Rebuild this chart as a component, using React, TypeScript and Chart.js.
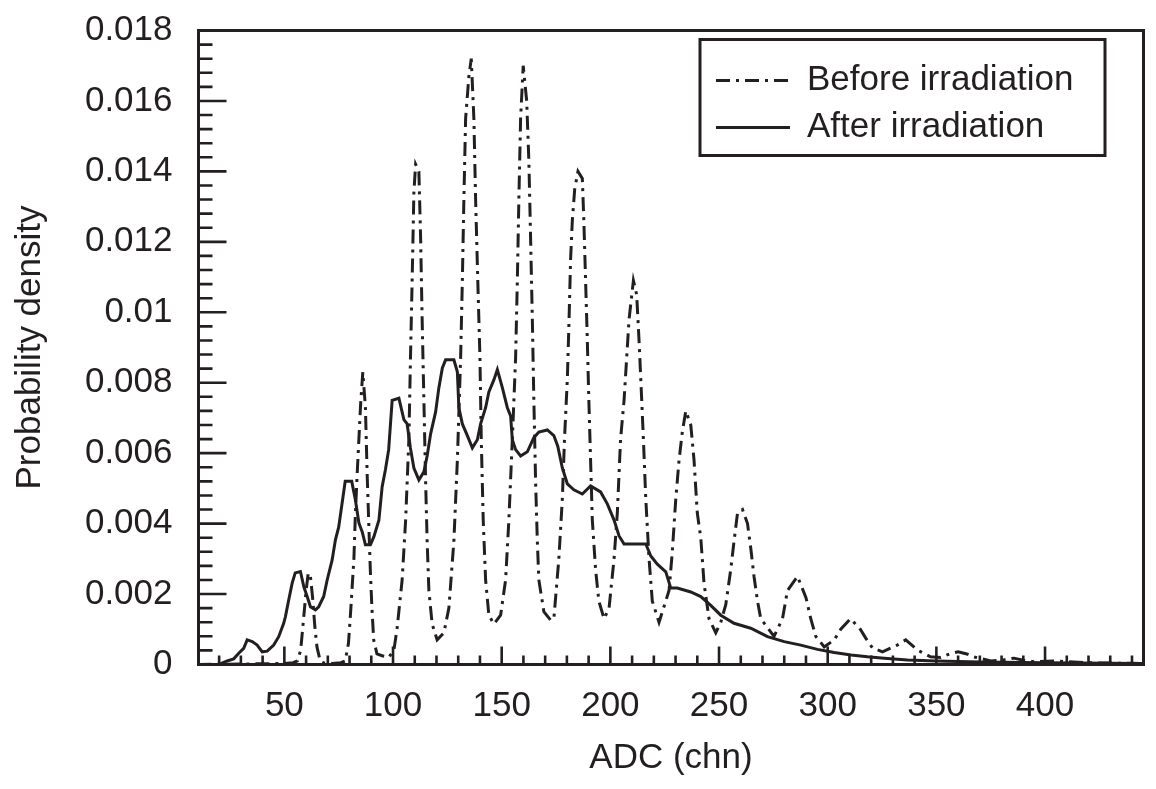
import { useEffect, useRef } from 'react';
import { Chart, registerables } from 'chart.js';

Chart.register(...registerables);

// ADC channel / probability density
const beforeAdc = [
  10, 40, 50, 54, 56, 57.5, 59, 60, 61, 62, 63, 64, 65, 66.5, 68, 72, 76,
  78, 79.5, 80.5, 82, 82.7, 83.5, 84.3, 85.1, 86.1, 87.3, 88.1, 88.9, 89.6, 90.3, 91.1, 92.6, 95, 98,
  100.4, 101.9, 104.2, 105.8, 107.3, 108, 108.8, 109.6, 110.4, 111.9, 112.7, 113.4, 114.2, 115, 115.7, 116.5, 118, 120.3, 123.4,
  125.7, 128, 129.6, 131.1, 131.9, 132.6, 133.4, 134.9, 136, 137.2, 138, 139, 140, 140.6, 141.5, 142.6, 144.1, 146.4, 149.5,
  151.8, 153.3, 154.9, 156.4, 157.2, 157.9, 158.7, 159.9, 161.5, 162.5, 163.3, 164.1, 164.8, 165.6, 166.4, 167.1, 169.4, 172.5, 174,
  176.3, 177.9, 178.9, 180.2, 181, 181.7, 182.5, 183.6, 185.1, 187.1, 187.8, 188.6, 189.4, 190.1, 190.9, 191.7, 193.2, 194.7, 197.1,
  199.4, 201.7, 203.2, 204.7, 206.3, 207.5, 208.6, 210.6, 212.1, 213.2, 214, 215.2, 216.3, 217.8, 219.3, 222.4,
  227, 228.5, 230.1, 231.6, 233.1, 234.7, 237, 238.5, 240, 241.6, 243.1, 245.4, 248.5,
  250.8, 253.1, 255.4, 256.9, 258.5, 260.8, 263.1, 264.6, 266.1, 267.7, 269.2, 275.3,
  279.2, 281.5, 286.1, 290, 292.2, 294.5, 298.4, 303, 306, 310.5, 315, 317.5, 320.6, 325.2,
  332, 335.9, 341.3, 347.3, 352, 356, 360, 364, 367, 375, 380, 385.7, 390, 395, 405, 410, 420, 430, 445,
];
const beforeDensity = [
  0, 0.00002, 0.00003, 0.00005, 0.0001, 0.0004, 0.0014, 0.0021, 0.0026, 0.0025, 0.0019, 0.0011, 0.0005, 0.0001, 0.00005, 0.00003, 0.00005,
  0.0001, 0.0006, 0.0015, 0.003, 0.0043, 0.0054, 0.0064, 0.0074, 0.0083, 0.0073, 0.0054, 0.0039, 0.0026, 0.0016, 0.0007, 0.0003, 0.00025, 0.0002,
  0.0004, 0.00104, 0.0024, 0.0041, 0.0064, 0.0086, 0.0109, 0.0134, 0.0142, 0.014, 0.0121, 0.0098, 0.0075, 0.0052, 0.0035, 0.0021, 0.00115, 0.0007, 0.0009,
  0.0016, 0.0035, 0.0058, 0.0087, 0.0109, 0.0132, 0.0155, 0.0167, 0.0172, 0.0155, 0.0132, 0.0109, 0.0087, 0.0064, 0.0041, 0.0024, 0.0014, 0.00115, 0.0014,
  0.0024, 0.0041, 0.0064, 0.0087, 0.0109, 0.0132, 0.0155, 0.017, 0.016, 0.0143, 0.0121, 0.0098, 0.0075, 0.0052, 0.0035, 0.0024, 0.0015, 0.00126, 0.0013,
  0.003, 0.0047, 0.0064, 0.0081, 0.0098, 0.0115, 0.0126, 0.0135, 0.014, 0.0138, 0.0126, 0.0109, 0.0092, 0.0075, 0.0058, 0.0041, 0.0027, 0.0018, 0.0013,
  0.0016, 0.003, 0.0043, 0.0064, 0.0075, 0.0087, 0.0098, 0.0109, 0.0105, 0.0092, 0.0081, 0.0064, 0.0047, 0.003, 0.0018, 0.0012,
  0.0021, 0.0032, 0.0047, 0.0058, 0.0066, 0.0072, 0.0068, 0.0058, 0.0043, 0.0036, 0.0023, 0.0013, 0.0009,
  0.0012, 0.0017, 0.0027, 0.0035, 0.0043, 0.0044, 0.004, 0.0033, 0.0025, 0.0018, 0.0013, 0.0008,
  0.0013, 0.0021, 0.0025, 0.0019, 0.0013, 0.0008, 0.0005, 0.0007, 0.001, 0.0013, 0.001, 0.00075, 0.00047, 0.00036,
  0.00055, 0.0007, 0.00041, 0.00022, 0.0002, 0.0003, 0.00036, 0.0003, 0.00022, 0.0001, 0.00012, 0.00018, 0.00012, 0.00008, 0.0001, 0.00008, 0.00005, 0.00004, 0.00003,
];

const afterAdc = [
  10, 20, 21, 23.7, 26.7, 29, 31.3, 32.9, 35.2, 37.5, 39.8, 42.1, 45.1, 47.4, 49.7, 50.5, 52, 53.6, 55, 57.4,
  59, 60.5, 62, 64.3, 65.8, 68.1, 69.7, 72, 73.5, 75, 76.6, 78, 81, 82.7, 84.3, 85.8, 87.3, 89.6, 91.2, 93.5,
  95, 96.5, 98, 99.6, 102.7, 105, 106.5, 108, 109.6, 111.9, 114.2, 115.7, 117.3, 119.6, 121.1, 122.7, 124.2, 128,
  129.6, 130.3, 131.9, 134.2, 136.5, 138.8, 140.3, 142.6, 144.1, 146.4, 148, 150.3, 152.6, 154.1, 154.9, 156.4,
  158.7, 161.8, 164.8, 167.1, 171, 174, 175.8, 177.9, 180.2, 183.2, 187.1, 190.9, 195.5, 198.6, 201.7, 204, 206.3,
  216.3, 218.6, 221.6, 225.5, 227.8, 230.8, 237, 241.6, 246.2, 250.8, 256.9, 264.6, 272.3, 280, 287.6, 295.3,
  303, 310.7, 318.3, 326, 336.7, 350, 370, 400, 445,
];
const afterDensity = [
  0, 0, 0.00003, 0.0001, 0.00016, 0.00032, 0.00046, 0.0007, 0.00065, 0.00055, 0.00036, 0.00038, 0.00055, 0.00079, 0.00117, 0.00136, 0.00183, 0.00231, 0.0026, 0.00264,
  0.0022, 0.00193, 0.00164, 0.00155, 0.00164, 0.00193, 0.0024, 0.00297, 0.00354, 0.0039, 0.00459, 0.0052, 0.0052, 0.00467, 0.00402, 0.00377, 0.0034, 0.0034, 0.00363, 0.0041,
  0.00505, 0.00553, 0.0061, 0.0075, 0.00756, 0.00695, 0.00683, 0.00615, 0.00558, 0.00524, 0.00547, 0.00592, 0.00655, 0.00717, 0.00786, 0.00842, 0.00865, 0.00865,
  0.00831, 0.00729, 0.00683, 0.0065, 0.00615, 0.00638, 0.00683, 0.00729, 0.00774, 0.00808, 0.00837, 0.00786, 0.00729, 0.00706, 0.00638, 0.0061,
  0.00592, 0.00604, 0.00644, 0.0066, 0.00666, 0.0065, 0.0062, 0.00558, 0.00513, 0.00496, 0.00484, 0.00507, 0.0049, 0.00456, 0.0041, 0.00365, 0.00342,
  0.00342, 0.00308, 0.00285, 0.00263, 0.00217, 0.00217, 0.00206, 0.00193, 0.00168, 0.0014, 0.00117, 0.00103, 0.00079, 0.00065, 0.00055, 0.00043,
  0.00034, 0.00027, 0.00022, 0.00018, 0.00013, 0.0001, 0.00007, 0.00005, 0.00003,
];

const xTickValues = [50, 100, 150, 200, 250, 300, 350, 400];
const yTickValues = [0, 0.002, 0.004, 0.006, 0.008, 0.01, 0.012, 0.014, 0.016, 0.018];
const yTickLabels = ['0', '0.002', '0.004', '0.006', '0.008', '0.01', '0.012', '0.014', '0.016', '0.018'];

const INK = '#231f20';
const FONT = "'Liberation Sans', Arial, Helvetica, sans-serif";
const FONT_SIZE = 35;
const BEFORE_DASH = [14, 6, 3, 6];

// ROOT-style frame: full box, inward ticks on left/bottom, boxed legend
const framePlugin = {
  id: 'rootFrame',
  afterDatasetsDraw(chart: Chart) {
    const { ctx, chartArea: a } = chart;
    const xs = chart.scales.x;
    const ys = chart.scales.y;
    ctx.save();
    ctx.strokeStyle = INK;
    ctx.lineWidth = 2.6;
    ctx.setLineDash([]);
    ctx.beginPath();
    for (let v = 20; v <= 440; v += 10) {
      const px = xs.getPixelForValue(v);
      const len = v % 50 === 0 ? 18 : 9;
      ctx.moveTo(px, a.bottom);
      ctx.lineTo(px, a.bottom - len);
    }
    for (let i = 0; i <= 45; i++) {
      const py = ys.getPixelForValue(i * 0.0004);
      const len = i % 5 === 0 ? 28 : 14;
      ctx.moveTo(a.left, py);
      ctx.lineTo(a.left + len, py);
    }
    ctx.stroke();
    ctx.lineWidth = 3;
    ctx.strokeRect(a.left, a.top, a.right - a.left, a.bottom - a.top);

    // legend
    const bx = a.right - 443.5;
    const by = a.top + 9;
    ctx.strokeRect(bx, by, 405, 116);
    const rows = [by + 41, by + 88];
    chart.data.datasets.forEach((ds: any, i: number) => {
      const ly = rows[i];
      ctx.lineWidth = 3;
      ctx.setLineDash(ds.borderDash || []);
      ctx.beginPath();
      ctx.moveTo(bx + 16, ly);
      ctx.lineTo(bx + 90, ly);
      ctx.stroke();
      ctx.setLineDash([]);
      ctx.fillStyle = INK;
      ctx.font = `${FONT_SIZE}px ${FONT}`;
      ctx.textBaseline = 'middle';
      ctx.textAlign = 'left';
      ctx.fillText(ds.label, bx + 107, ly);
    });
    ctx.restore();
  },
};

const noOverflow = (s: any) => {
  s.paddingTop = 0;
  s.paddingBottom = 0;
  s.paddingLeft = 0;
  s.paddingRight = 0;
};

export default function App() {
  const ref = useRef<HTMLCanvasElement>(null);
  const chartRef = useRef<Chart | null>(null);

  useEffect(() => {
    if (!ref.current) return;
    chartRef.current?.destroy();
    chartRef.current = new Chart(ref.current, {
      type: 'line',
      data: {
        datasets: [
          {
            label: 'Before irradiation',
            data: beforeAdc.map((x, i) => ({ x, y: beforeDensity[i] })),
            borderColor: INK,
            borderWidth: 3,
            borderDash: BEFORE_DASH,
            pointRadius: 0,
            fill: false,
            tension: 0,
          },
          {
            label: 'After irradiation',
            data: afterAdc.map((x, i) => ({ x, y: afterDensity[i] })),
            borderColor: INK,
            borderWidth: 3,
            pointRadius: 0,
            fill: false,
            tension: 0,
          },
        ],
      },
      options: {
        responsive: true,
        maintainAspectRatio: false,
        animation: false,
        layout: { padding: { left: 0, top: 30.5, right: 12.5, bottom: 0 } },
        plugins: { legend: { display: false }, tooltip: { enabled: false } },
        scales: {
          x: {
            type: 'linear',
            min: 10.5,
            max: 445.3,
            grid: { display: false, drawTicks: false },
            border: { display: false },
            afterBuildTicks: (s: any) => { s.ticks = xTickValues.map((value) => ({ value })); },
            afterFit: (s: any) => { s.height = 124.5; noOverflow(s); },
            ticks: {
              color: INK,
              font: { family: FONT, size: FONT_SIZE },
              padding: 21,
              maxRotation: 0,
              autoSkip: false,
              callback: (v: any) => String(v),
            },
            title: {
              display: true,
              text: 'ADC (chn)',
              color: INK,
              font: { family: FONT, size: FONT_SIZE },
              padding: { top: 0, bottom: 10 },
            },
          },
          y: {
            type: 'linear',
            min: 0,
            max: 0.018,
            grid: { display: false, drawTicks: false },
            border: { display: false },
            afterBuildTicks: (s: any) => { s.ticks = yTickValues.map((value) => ({ value })); },
            afterFit: (s: any) => { s.width = 198.5; noOverflow(s); },
            ticks: {
              color: INK,
              font: { family: FONT, size: FONT_SIZE },
              padding: 26,
              autoSkip: false,
              callback: (_v: any, i: number) => yTickLabels[i],
            },
            title: {
              display: true,
              text: 'Probability density',
              color: INK,
              font: { family: FONT, size: FONT_SIZE },
              padding: { top: 9, bottom: 0 },
            },
          },
        },
      },
      plugins: [framePlugin],
    } as any);
    return () => { chartRef.current?.destroy(); };
  }, []);

  return (
    <div style={{ position: 'fixed', left: 0, top: 0, width: 1156, height: 789, background: '#fff' }}>
      <canvas ref={ref} />
    </div>
  );
}
